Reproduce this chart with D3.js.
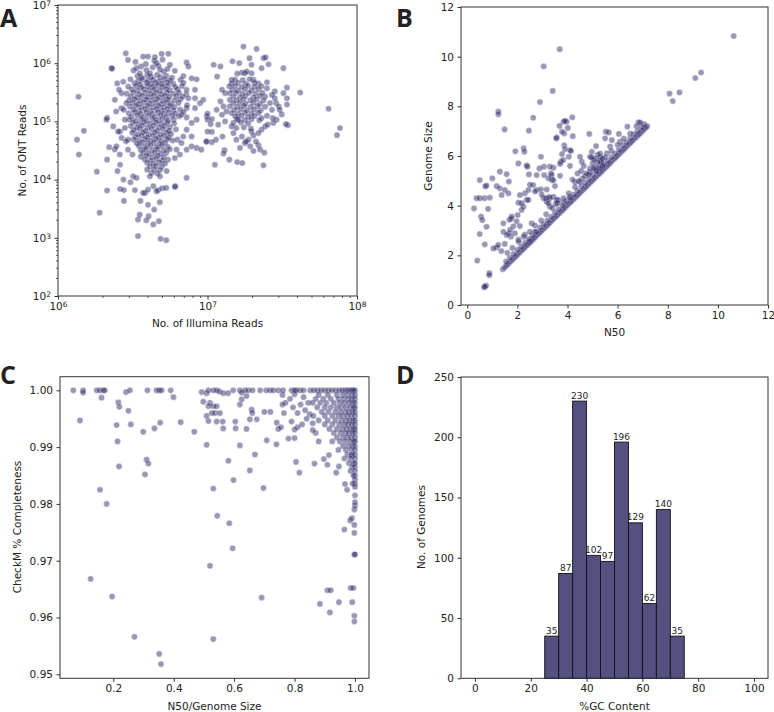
<!DOCTYPE html>
<html><head><meta charset="utf-8">
<script src="https://cdn.jsdelivr.net/npm/d3@7"></script>
<style>
body{margin:0;background:#fff}
svg text{font-family:"DejaVu Sans",sans-serif;fill:#222}
</style></head>
<body><svg id="c" width="774" height="712"></svg>
<script>
// ---------- Panel A: [Illumina reads, ONT reads] ----------
const illuminaOntReads = [
[3.4e6,6.0e5],[3.62e6,5.7e5],[3.95e6,6.2e5],[4.2e6,5.8e5],[4.6e6,6.3e5],[4.85e6,5.75e5],[5.3e6,6.05e5],[5.8e6,5.65e5],
[3.05e6,5.3e5],[3.45e6,4.95e5],[3.66e6,5.35e5],[4.0e6,5.0e5],[4.33e6,5.25e5],[4.72e6,4.9e5],[5.14e6,5.3e5],[5.62e6,5.05e5],[6.6e6,5.2e5],
[3.25e6,4.55e5],[3.55e6,4.35e5],[3.9e6,4.65e5],[4.18e6,4.4e5],[4.48e6,4.6e5],[4.98e6,4.45e5],[5.4e6,4.7e5],[5.9e6,4.4e5],[6.9e6,4.6e5],
[2.95e6,3.95e5],[3.33e6,4.1e5],[3.6e6,3.85e5],[3.97e6,4.05e5],[4.3e6,3.9e5],[4.66e6,4.15e5],[5.0e6,3.95e5],[5.42e6,4.1e5],[6.1e6,3.9e5],[6.75e6,4.05e5],
[3.12e6,3.55e5],[3.4e6,3.4e5],[3.74e6,3.6e5],[4.06e6,3.45e5],[4.4e6,3.55e5],[4.8e6,3.4e5],[5.27e6,3.6e5],[5.6e6,3.45e5],[6.3e6,3.55e5],
[2.88e6,3.0e5],[3.2e6,3.15e5],[3.5e6,2.95e5],[3.83e6,3.1e5],[4.18e6,2.98e5],[4.55e6,3.12e5],[4.95e6,2.95e5],[5.38e6,3.1e5],[5.9e6,3.0e5],[6.45e6,3.12e5],[7.2e6,2.95e5],
[3.07e6,2.7e5],[3.36e6,2.6e5],[3.65e6,2.76e5],[3.98e6,2.62e5],[4.35e6,2.74e5],[4.75e6,2.6e5],[5.17e6,2.76e5],[5.55e6,2.62e5],[6.2e6,2.72e5],
[2.98e6,2.3e5],[3.25e6,2.42e5],[3.55e6,2.28e5],[3.88e6,2.4e5],[4.22e6,2.32e5],[4.6e6,2.42e5],[5.04e6,2.28e5],[5.42e6,2.4e5],[6.02e6,2.3e5],[6.6e6,2.4e5],
[3.15e6,2.1e5],[3.44e6,2.0e5],[3.76e6,2.12e5],[4.1e6,2.02e5],[4.47e6,2.12e5],[4.88e6,2.0e5],[5.3e6,2.1e5],[5.7e6,2.02e5],[6.4e6,2.08e5],
[3.03e6,1.8e5],[3.33e6,1.86e5],[3.62e6,1.76e5],[3.97e6,1.85e5],[4.33e6,1.77e5],[4.7e6,1.85e5],[5.12e6,1.76e5],[5.6e6,1.84e5],[6.0e6,1.78e5],
[3.2e6,1.6e5],[3.5e6,1.53e5],[3.83e6,1.63e5],[4.17e6,1.54e5],[4.56e6,1.62e5],[4.96e6,1.55e5],[5.4e6,1.63e5],[5.9e6,1.55e5],[6.55e6,1.6e5],
[2.98e6,1.38e5],[3.27e6,1.44e5],[3.58e6,1.35e5],[3.9e6,1.43e5],[4.28e6,1.35e5],[4.67e6,1.43e5],[5.12e6,1.36e5],[5.5e6,1.42e5],[6.1e6,1.36e5],
[3.1e6,1.2e5],[3.4e6,1.27e5],[3.73e6,1.18e5],[4.05e6,1.26e5],[4.44e6,1.19e5],[4.85e6,1.27e5],[5.3e6,1.19e5],[5.8e6,1.26e5],[6.45e6,1.22e5],
[3.0e6,1.08e5],[3.3e6,1.03e5],[3.6e6,1.1e5],[3.93e6,1.03e5],[4.3e6,1.1e5],[4.67e6,1.04e5],[5.0e6,1.1e5],[5.45e6,1.03e5],[5.95e6,1.08e5],
[3.18e6,9.6e4],[3.47e6,9.1e4],[3.77e6,9.7e4],[4.13e6,9.1e4],[4.52e6,9.6e4],[4.92e6,9.1e4],[5.38e6,9.6e4],[5.98e6,9.2e4],
[3.06e6,8.3e4],[3.36e6,7.9e4],[3.66e6,8.5e4],[3.98e6,7.9e4],[4.35e6,8.5e4],[4.74e6,7.9e4],[5.16e6,8.4e4],[5.6e6,8.0e4],
[3.22e6,7.1e4],[3.53e6,7.5e4],[3.85e6,6.9e4],[4.22e6,7.4e4],[4.6e6,6.9e4],[5.03e6,7.4e4],[5.52e6,6.9e4],[6.15e6,7.3e4],
[3.14e6,6.4e4],[3.43e6,6.0e4],[3.73e6,6.5e4],[4.05e6,6.0e4],[4.44e6,6.5e4],[4.86e6,6.0e4],[5.33e6,6.5e4],[5.7e6,6.1e4],
[3.32e6,5.4e4],[3.62e6,5.7e4],[3.96e6,5.3e4],[4.32e6,5.7e4],[4.7e6,5.3e4],[5.11e6,5.7e4],[5.5e6,5.3e4],
[3.2e6,4.9e4],[3.5e6,4.65e4],[3.82e6,5.0e4],[4.17e6,4.65e4],[4.52e6,5.0e4],[4.93e6,4.65e4],[5.38e6,4.95e4],[5.85e6,4.7e4],
[3.36e6,4.2e4],[3.66e6,4.35e4],[3.98e6,4.15e4],[4.38e6,4.35e4],[4.78e6,4.15e4],[5.2e6,4.3e4],
[3.48e6,3.8e4],[3.8e6,3.6e4],[4.16e6,3.85e4],[4.54e6,3.62e4],[4.95e6,3.82e4],[5.42e6,3.65e4],
[3.58e6,3.22e4],[3.9e6,3.35e4],[4.25e6,3.18e4],[4.65e6,3.33e4],[5.1e6,3.18e4],[5.6e6,3.32e4],
[3.72e6,2.9e4],[4.05e6,2.78e4],[4.44e6,2.92e4],[4.86e6,2.78e4],[5.3e6,2.9e4],
[3.58e6,2.48e4],[3.92e6,2.58e4],[4.28e6,2.43e4],[4.66e6,2.57e4],[5.1e6,2.44e4],
[3.8e6,2.22e4],[4.16e6,2.13e4],[4.55e6,2.27e4],[4.98e6,2.14e4],[5.45e6,2.2e4],
[3.95e6,1.95e4],[4.35e6,1.88e4],[4.76e6,1.98e4],[5.2e6,1.89e4],
[4.12e6,1.69e4],[4.52e6,1.72e4],[4.95e6,1.66e4],
[3.95e6,1.48e4],[4.39e6,1.5e4],[4.81e6,1.46e4],
[4.23e6,1.3e4],[4.61e6,1.28e4],
[3.2e6,7.5e5],[3.6e6,8.8e5],[4.3e6,8.5e5],[4.7e6,9.0e5],[5.1e6,7.2e5],[5.4e6,8.0e5],[3.9e6,7.6e5],[4.4e6,1.1e6],[3.3e6,1.05e6],[5.0e6,1.15e6],
[2.84e6,1.48e6],[2.94e6,1.14e6],[3.71e6,1.3e6],[4.0e6,1.3e6],[4.45e6,1.27e6],[4.93e6,1.45e6],[5.47e6,1.45e6],
[2.28e6,8.2e5],[3.87e6,9.7e5],[4.56e6,1.0e6],[5.61e6,9.4e5],[6.05e6,7.4e5],[7.25e6,1.03e6],[7.45e6,8.8e5],
[3.35e6,8.2e5],[3.53e6,6.7e5],[4.12e6,6.7e5],[4.81e6,7.7e5],[2.49e6,4.5e5],[2.66e6,3.06e5],
[6.89e6,6.0e5],[7.83e6,5.5e5],[8.46e6,5.3e5],[8.25e6,3.5e5],[7.25e6,3.5e5],[7.45e6,2.5e5],[8.25e6,2.5e5],[9.38e6,2.35e5],[8.91e6,2.06e5],[9.9e6,1.22e5],
[1.37e6,2.65e5],[1.34e6,4.85e4],[1.49e6,6.9e4],[1.38e6,2.7e4],[1.82e6,1.37e4],[1.9e6,2.7e3],[2.13e6,6.5e3],[2.13e6,2.2e4],[2.2e6,3.6e4],[2.13e6,1.15e5],
[2.3e6,8.1e5],[2.45e6,1.48e5],[2.4e6,3.3e4],[2.5e6,1.4e4],[2.6e6,1.8e4],[2.6e6,6.9e3],[2.76e6,6.6e3],[2.76e6,4.3e3],[2.74e6,1.0e4],[2.6e6,6.7e4],
[3.05e6,9.0e3],[3.27e6,6.6e3],[3.35e6,1.07e4],[3.43e6,1.07e3],[3.43e6,2.06e3],[3.52e6,2.5e3],[3.56e6,4.3e3],[3.9e6,2.0e3],[4.04e6,2.35e3],[4.34e6,1.7e3],
[4.4e6,3.06e3],[4.73e6,1.93e3],[4.8e6,4.1e3],[4.0e6,3.7e3],[4.86e6,960],[5.3e6,910],[3.83e6,5.9e3],[4.34e6,7.7e3],[4.68e6,6.6e3],[4.98e6,7.1e3],
[5.3e6,7.2e3],[6.1e6,7.7e3],[7.25e6,1.07e4],[2.11e6,1.07e5],[2.66e6,1.69e5],[2.87e6,2.06e5],[2.8e6,1.07e5],[2.52e6,6.7e4],[2.8e6,7.7e4],[2.66e6,5.2e4],
[2.94e6,4.85e4],[2.46e6,3.73e4],[2.59e6,2.7e4],[3.15e6,2.7e4],[2.94e6,3.27e4],
[6.05e6,2.35e4],[6.54e6,2.7e4],[7.25e6,3.27e4],[7.83e6,3.73e4],[8.46e6,3.5e4],[9.1e6,3.27e4],[9.9e6,4.5e4],[7.83e6,5.5e4],[7.25e6,7.2e4],[7.83e6,9.4e4],
[8.46e6,1.07e5],[6.7e6,1.3e5],[7.25e6,1.69e5],[5.33e6,1.4e4],[4.81e6,1.14e4],[4.12e6,1.14e4],[3.18e6,1.14e4],[3.71e6,5.9e3],[4.0e6,6.7e3],[4.56e6,6.3e3],
[6.05e6,7.5e3],[6.82e6,2.68e5],[7.3e6,1.9e5],[8.25e6,1.69e5],[6.9e6,1.45e5],[7.25e6,1.17e5],[6.89e6,5.5e4],[6.3e6,4.85e4],[6.7e6,4.25e4],[6.21e6,3.27e4],
[2.4e6,2.35e5],[2.56e6,3.5e5],[2.73e6,4.8e5],[2.76e6,1.58e5],[2.34e6,8.2e4],[2.85e6,4.55e4],
[1.74e7,1.93e6],[2.13e7,1.76e6],[1.47e7,1.08e6],[1.63e7,1.0e6],[1.91e7,1.22e6],[1.97e7,9.4e5],[2.37e7,1.22e6],[2.45e7,1.26e6],[2.3e7,8.2e5],[2.56e7,9.6e5],
[3.22e7,8.2e5],[1.1e7,9.4e5],[1.22e7,8.8e5],[1.16e7,5.9e5],[1.45e7,5.2e5],[1.7e7,6.9e5],[1.78e7,6.7e5],[1.97e7,6.7e5],[2.03e7,5.2e5],[2.19e7,4.5e5],
[1.25e7,3.5e5],[1.31e7,3.06e5],[2.5e7,3.7e5],[2.82e7,3.27e5],[3.22e7,3.06e5],[3.4e7,3.8e5],[3.4e7,2.5e5],[4.17e7,3.14e5],[6.45e7,1.65e5],[7.7e7,7.7e4],
[7.35e7,5.8e4],[2.88e7,2.06e5],[3.0e7,1.8e5],[3.45e7,8.6e4],[2.9e7,1.07e5],[2.76e7,9.4e4],[1.0e7,1.36e5],[1.0e7,1.07e5],[1.07e7,1.1e5],[1.15e7,1.58e5],
[1.22e7,2.2e5],[1.28e7,1.81e5],[1.34e7,1.48e5],[1.25e7,1.3e5],[1.31e7,1.0e5],[1.18e7,8.8e4],[1.07e7,6.6e4],[1.14e7,4.85e4],[1.3e7,3.2e4],[1.28e7,2.8e4],
[1.4e7,2.2e4],[1.12e7,1.8e4],[1.58e7,2.0e4],[1.71e7,1.93e4],[2.37e7,1.76e4],[1.93e7,3.73e4],[2.19e7,3.9e4],[2.25e7,3.27e4],[2.4e7,2.9e4],[2.03e7,3.1e4],
[1.65e7,3.5e4],[1.78e7,4.25e4],[1.88e7,4.85e4],[1.56e7,4.85e4],[1.7e7,5.5e4],[1.49e7,6.3e4],[1.97e7,6.7e4],[2.3e7,7.2e4],[2.19e7,6.3e4],[2.43e7,8.2e4],
[2.53e7,8.8e4],[2.3e7,1.14e5],[2.5e7,1.25e5],[2.7e7,1.58e5],[2.62e7,2.06e5],[2.82e7,2.5e5],[2.43e7,2.68e5],[2.7e7,2.85e5],[3.4e7,1.95e5],[3.04e7,1.58e5],
[1.05e7,9.0e4],[1.58e7,6.6e5],[1.83e7,7.2e5],[2.5e7,4.7e5],[2.73e7,1.14e5],[3.14e7,1.32e5],[3.34e7,9.0e4],[2.11e7,4.5e4],[1.81e7,4.5e4],[1.07e7,4.4e4],
[1.26e7,5.5e4],[1.45e7,8.2e4],[9.8e6,4.5e4],[1.0e7,6.7e4],[1.58e7,1.1e5],[2.03e7,5.7e4],
[1.53e7,5.2e5],[1.72e7,5.1e5],[1.91e7,5.3e5],
[1.45e7,4.5e5],[1.6e7,4.6e5],[1.8e7,4.4e5],[2.06e7,4.6e5],
[1.4e7,4.0e5],[1.53e7,4.1e5],[1.69e7,3.9e5],[1.87e7,4.1e5],[2.06e7,3.9e5],[2.3e7,4.0e5],
[1.47e7,3.5e5],[1.6e7,3.4e5],[1.78e7,3.6e5],[1.97e7,3.4e5],[2.19e7,3.6e5],
[1.41e7,3.06e5],[1.55e7,3.1e5],[1.71e7,3.0e5],[1.89e7,3.1e5],[2.1e7,3.0e5],[2.33e7,3.1e5],
[1.49e7,2.68e5],[1.65e7,2.6e5],[1.8e7,2.75e5],[2.03e7,2.6e5],[2.25e7,2.75e5],
[1.41e7,2.35e5],[1.56e7,2.3e5],[1.74e7,2.4e5],[1.93e7,2.3e5],[2.13e7,2.4e5],[2.37e7,2.3e5],
[1.49e7,2.06e5],[1.65e7,2.1e5],[1.8e7,2.0e5],[2.03e7,2.1e5],[2.25e7,2.0e5],
[1.41e7,1.81e5],[1.58e7,1.78e5],[1.75e7,1.85e5],[1.95e7,1.78e5],[2.16e7,1.84e5],[2.43e7,1.78e5],
[1.51e7,1.58e5],[1.67e7,1.62e5],[1.84e7,1.55e5],[2.05e7,1.6e5],[2.27e7,1.55e5],
[1.45e7,1.39e5],[1.6e7,1.36e5],[1.78e7,1.42e5],[1.97e7,1.36e5],[2.19e7,1.4e5],
[1.53e7,1.22e5],[1.69e7,1.25e5],[1.87e7,1.2e5],[2.06e7,1.24e5],
[1.6e7,1.07e5],[1.78e7,1.05e5],[1.97e7,1.09e5],[2.22e7,1.05e5],
[1.49e7,9.4e4],[1.67e7,9.6e4],[1.87e7,9.2e4],
[1.56e7,7.7e4],[1.75e7,7.9e4],[1.95e7,7.5e4]
];

// ---------- Panel B: [N50 (Mb), Genome size (Mb)] ----------
const n50GenomeSize = [
[10.63,10.83],[9.33,9.36],[9.1,9.14],[8.07,8.51],[8.2,8.21],[8.47,8.56],[3.05,9.61],[3.69,10.3],[3.41,8.62],[2.9,8.17],
[1.24,7.79],[1.24,7.68],[1.49,7.07],[2.46,7.02],[2.63,7.54],[4.19,7.56],[3.97,7.38],[3.84,7.38],[4.01,7.13],[3.68,7.21],
[3.57,6.75],[4.21,6.8],[3.87,6.91],[3.87,6.43],[3.78,6.08],[3.74,5.77],[4.87,6.89],[4.1,6.24],[1.92,6.19],[2.04,5.7],
[2.37,5.62],[2.25,6.31],[2.94,5.97],[3.06,5.57],[3.44,5.53],[2.46,5.26],[2.77,5.23],[3.07,5.23],[1.3,5.37],[1.57,5.27],
[1.66,4.97],[1.0,5.1],[0.5,5.03],[0.77,4.81],[0.72,4.78],[1.17,4.79],[1.3,4.7],[1.5,4.63],[1.37,4.43],[0.37,4.3],
[0.5,4.3],[0.69,4.3],[0.9,4.32],[0.27,3.89],[0.83,3.87],[0.55,3.56],[0.6,3.42],[0.5,2.86],[0.77,3.15],[0.7,2.44],
[0.4,1.79],[0.88,1.28],[0.88,1.2],[0.67,0.71],[0.75,0.78],[0.7,0.74],[1.17,2.32],[1.36,2.17],[1.5,2.46],[1.74,2.75],
[1.66,2.89],[1.84,3.17],[1.76,3.48],[1.97,3.37],[2.01,3.62],[2.17,3.83],[2.04,4.12],[2.24,3.96],[2.37,4.23],[2.3,4.5],
[2.44,4.63],[2.63,4.83],[2.77,4.63],[2.94,4.66],[3.04,4.3],[3.17,4.16],[3.27,4.36],[3.44,4.36],[3.3,3.96],[3.53,4.07],
[3.64,4.23],[3.84,4.13],[4.1,4.35],[2.28,6.17],[3.34,5.3],[3.38,5.03],[3.7,5.2],[4.5,5.97],[4.57,5.77],[4.9,5.97],
[4.97,6.17],[5.14,6.4],[5.53,6.98],[5.65,6.95],[5.5,6.71],[5.77,6.64],[6.05,6.89],[6.1,6.58],[6.39,7.18],[6.83,7.36],
[5.57,6.11],[5.7,6.38],[3.55,6.71],[3.78,6.98],[3.9,7.42],[3.7,5.68],[3.9,6.27],[4.14,6.2],[3.83,5.84],[4.1,5.6],
[4.05,5.97],[2.4,5.57],[2.88,5.5],[3.3,5.57],[3.37,5.23],[3.44,5.03],[3.24,5.1],[3.5,4.79],[3.17,4.65],[2.97,4.45],
[3.3,4.3],[3.24,4.1],[3.57,4.23],[3.14,4.3],[2.7,4.57],[2.5,4.84],[2.44,4.23],[2.17,4.1],[2.1,4.43],[1.64,4.5],
[1.68,3.43],[1.77,3.56],[1.44,3.29],[1.71,3.03],[1.9,2.89],[2.1,3.18],[2.04,2.63],[2.3,2.83],[2.57,3.29],[2.7,2.95],
[2.5,2.56],[1.24,2.42],[1.04,2.28],[1.44,2.95],[1.57,2.82],
[1.42,1.44],[1.5,1.52],[1.57,1.59],[1.64,1.66],[1.72,1.74],[1.8,1.82],[1.87,1.89],[1.95,1.97],[2.02,2.04],[2.1,2.12],
[2.18,2.2],[2.25,2.27],[2.33,2.35],[2.4,2.42],[2.48,2.5],[2.56,2.58],[2.63,2.65],[2.7,2.72],[2.78,2.8],[2.86,2.88],
[2.93,2.95],[3.0,3.02],[3.08,3.1],[3.16,3.18],[3.23,3.25],[3.3,3.32],[3.38,3.4],[3.46,3.48],[3.53,3.55],[3.6,3.62],
[3.68,3.7],[3.76,3.78],[3.83,3.85],[3.9,3.92],[3.98,4.0],[4.06,4.08],[4.13,4.15],[4.2,4.22],[4.28,4.3],[4.36,4.38],
[4.43,4.45],[4.5,4.52],[4.58,4.6],[4.66,4.68],[4.73,4.75],[4.8,4.82],[4.88,4.9],[4.96,4.98],[5.03,5.05],[5.1,5.12],
[5.18,5.2],[5.26,5.28],[5.33,5.35],[5.4,5.42],[5.48,5.5],[5.56,5.58],[5.63,5.65],[5.7,5.72],[5.78,5.8],[5.86,5.88],
[5.93,5.95],[6.0,6.02],[6.08,6.1],[6.16,6.18],[6.23,6.25],[6.3,6.32],[6.38,6.4],[6.46,6.48],[6.53,6.55],[6.6,6.62],
[6.68,6.7],[6.76,6.78],[6.83,6.85],[6.9,6.92],[6.98,7.0],[7.05,7.07],[7.12,7.14],[7.18,7.2],
[1.55,1.75],[1.7,1.9],[1.85,2.05],[2.0,2.22],[2.15,2.35],[2.3,2.5],[2.45,2.65],[2.6,2.8],[2.75,2.95],[2.9,3.12],
[3.05,3.25],[3.2,3.4],[3.35,3.55],[3.5,3.72],[3.65,3.85],[3.8,4.0],[3.95,4.18],[4.1,4.32],[4.25,4.45],[4.4,4.6],
[4.55,4.78],[4.7,4.92],[4.85,5.05],[5.0,5.22],[5.15,5.38],[5.3,5.5],[5.45,5.68],[5.6,5.8],[5.75,5.95],[5.9,6.1],
[6.05,6.25],[6.2,6.42],[6.35,6.55],[6.5,6.7],[6.65,6.88],[6.8,7.0],[6.95,7.15],[7.05,7.28],
[1.6,2.1],[1.8,2.3],[2.05,2.55],[2.25,2.75],[2.5,2.95],[2.7,3.2],[2.95,3.4],[3.15,3.65],[3.4,3.9],[3.6,4.1],
[3.85,4.3],[4.05,4.5],[4.3,4.75],[4.5,4.95],[4.7,5.2],[4.9,5.35],[5.1,5.55],[5.3,5.8],[5.5,5.95],[5.75,6.2],
[6.0,6.45],[6.25,6.7],[6.5,6.9],[6.75,7.2],[6.9,7.35],
[4.75,5.3],[4.9,5.5],[5.0,5.7],[5.1,5.9],[5.2,6.05],[5.3,5.95],[5.35,5.75],[5.25,5.55],[5.15,5.4],[5.05,5.85],
[4.95,5.95],[5.3,6.1],[5.4,5.9],[5.4,5.6],[4.85,5.25],[5.2,5.75],[5.05,5.5],[4.6,5.1],[4.45,5.0],[4.3,4.95],
[4.2,5.05],[4.4,5.3],[4.55,5.4],[4.65,5.6]
];

// ---------- Panel C: [N50/Genome size, CheckM completeness] ----------
const ratioCompleteness = [
[0.0675,1.0],[0.1,1.0],[0.1,0.9996],[0.145,1.0],[0.156,1.0],[0.167,1.0],[0.172,1.0],[0.161,0.9987],[0.0896,0.9947],[0.2166,0.9979],
[0.22,0.9971],[0.25,0.9964],[0.242,0.9997],[0.255,1.0],[0.211,0.9939],[0.258,0.994],[0.214,0.991],[0.219,0.9866],[0.299,0.9927],[0.31,0.9878],
[0.316,0.9871],[0.305,0.9852],[0.313,1.0],[0.343,1.0],[0.352,1.0],[0.36,1.0],[0.336,0.9933],[0.355,0.9943],[0.39,1.0],[0.399,0.9988],
[0.423,0.9944],[0.468,0.9927],[0.4925,0.9997],[0.509,0.9995],[0.515,1.0],[0.531,1.0],[0.542,1.0],[0.551,0.9998],[0.564,0.9995],[0.58,0.9995],
[0.597,1.0],[0.619,1.0],[0.625,0.9996],[0.636,1.0],[0.647,1.0],[0.661,1.0],[0.686,1.0],[0.706,1.0],[0.719,1.0],[0.73,1.0],
[0.746,1.0],[0.498,0.998],[0.52,0.9978],[0.515,0.9972],[0.531,0.9972],[0.542,0.9972],[0.526,0.996],[0.537,0.996],[0.553,0.996],[0.509,0.9955],
[0.515,0.9946],[0.542,0.9945],[0.562,0.9945],[0.564,0.9933],[0.604,0.9945],[0.605,0.9933],[0.619,0.9975],[0.625,0.9984],[0.641,0.999],[0.641,0.9932],
[0.658,0.9966],[0.66,0.996],[0.675,0.9949],[0.652,0.9949],[0.619,0.9903],[0.581,0.9876],[0.598,0.9842],[0.669,0.9887],[0.708,0.9912],[0.509,0.9904],
[0.531,0.9827],[0.652,0.9859],[0.70,0.9962],[0.72,0.9962],[0.741,0.9943],[0.746,0.9932],
[0.156,0.9825],[0.178,0.98],[0.125,0.9668],[0.196,0.9637],[0.27,0.9566],[0.352,0.9536],[0.358,0.9518],[0.52,0.9691],[0.531,0.9562],[0.544,0.9779],
[0.584,0.9766],[0.595,0.9722],[0.697,0.9828],[0.691,0.9635],[0.805,0.9874],[0.816,0.9855],[0.866,0.9871],[0.897,0.9879],[0.909,0.9869],[0.914,0.9886],
[0.938,0.9855],[0.947,0.9866],[0.967,0.9835],[0.965,0.9755],[0.974,0.9825],[0.984,0.9771],[0.99,0.9885],[0.884,0.9624],[0.909,0.9648],[0.92,0.9648],
[0.917,0.9609],[0.947,0.9627],[0.986,0.9652],[0.995,0.9652],[0.991,0.9627],[0.998,0.9603],[0.998,0.9593],[0.998,0.9711],[1.0,0.9711],[0.998,0.9749],
[0.998,0.9763],[0.99,0.9775],[0.998,0.979],[1.0,0.9797],[1.0,0.9803],[1.0,0.9815],
[0.76,0.9992],[0.77,0.9978],[0.785,0.9985],[0.8,0.9993],[0.795,0.997],[0.81,0.996],[0.82,0.9975],[0.83,0.9988],[0.835,0.9965],[0.84,0.995],
[0.79,0.9945],[0.81,0.9935],[0.825,0.994],[0.845,0.9978],[0.85,0.9958],[0.86,0.9942],[0.87,0.9925],[0.88,0.991],[0.86,0.993],[0.8,0.9931],
[0.8,0.9916],[0.78,0.9915],[0.755,0.9935],[0.74,0.9905],[0.765,0.996],[0.76,0.9975],
[0.762,1.0],[0.79,1.0],[0.8,1.0],[0.805,1.0],[0.818,1.0],[0.83,1.0],[0.852,1.0],[0.864,1.0],[0.876,1.0],[0.888,1.0],
[0.9,1.0],[0.912,1.0],[0.924,1.0],[0.936,1.0],[0.948,1.0],[0.958,1.0],[0.968,1.0],[0.976,1.0],[0.984,1.0],[0.99,1.0],[0.995,1.0],[1.0,1.0],
[0.88,0.9992],[0.91,0.9992],[0.94,0.9992],[0.96,0.9992],[0.975,0.9992],[0.99,0.9992],[1.0,0.9992],
[0.87,0.9985],[0.895,0.9985],[0.92,0.9985],[0.945,0.9985],[0.962,0.9985],[0.978,0.9985],[0.99,0.9985],[1.0,0.9985],
[0.86,0.9978],[0.885,0.9978],[0.905,0.9978],[0.93,0.9978],[0.95,0.9978],[0.965,0.9978],[0.98,0.9978],[0.992,0.9978],[1.0,0.9978],
[0.875,0.997],[0.9,0.997],[0.92,0.997],[0.94,0.997],[0.955,0.997],[0.97,0.997],[0.985,0.997],[0.995,0.997],[1.0,0.997],
[0.89,0.9962],[0.912,0.9962],[0.935,0.9962],[0.952,0.9962],[0.968,0.9962],[0.98,0.9962],[0.992,0.9962],[1.0,0.9962],
[0.862,0.9955],[0.9,0.9955],[0.925,0.9955],[0.945,0.9955],[0.96,0.9955],[0.975,0.9955],[0.988,0.9955],[1.0,0.9955],
[0.88,0.9947],[0.91,0.9947],[0.935,0.9947],[0.955,0.9947],[0.97,0.9947],[0.982,0.9947],[0.993,0.9947],[1.0,0.9947],
[0.9,0.994],[0.925,0.994],[0.948,0.994],[0.965,0.994],[0.978,0.994],[0.99,0.994],[1.0,0.994],
[0.915,0.9932],[0.94,0.9932],[0.958,0.9932],[0.972,0.9932],[0.985,0.9932],[0.995,0.9932],[1.0,0.9932],
[0.93,0.9925],[0.952,0.9925],[0.968,0.9925],[0.98,0.9925],[0.992,0.9925],[1.0,0.9925],
[0.94,0.9917],[0.96,0.9917],[0.975,0.9917],[0.988,0.9917],[1.0,0.9917],
[0.925,0.991],[0.95,0.991],[0.968,0.991],[0.985,0.991],[0.996,0.991],[1.0,0.991],
[0.96,0.9902],[0.978,0.9902],[0.992,0.9902],[1.0,0.9902],
[0.945,0.9895],[0.97,0.9895],[0.988,0.9895],[1.0,0.9895],
[0.975,0.9887],[0.99,0.9887],[1.0,0.9887],
[0.965,0.988],[0.985,0.988],[1.0,0.988],
[0.98,0.9872],[0.995,0.9872],[1.0,0.9872],
[0.99,0.9865],[1.0,0.9865],[0.985,0.9858],[1.0,0.9858],[1.0,0.985],[0.995,0.985],[1.0,0.9843],[1.0,0.9836],[0.992,0.9836],[1.0,0.983]
];

// ---------- Panel D: %GC histogram ----------
const gcBinStart = [25,30,35,40,45,50,55,60,65,70];
const gcBinWidth = 5;
const gcCounts   = [35,87,230,102,97,196,129,62,140,35];

// ---------- tick labels ----------
const ticksA_x = [1e6,1e7,1e8];
const ticksA_y = [1e2,1e3,1e4,1e5,1e6,1e7];
const ticksB = [0,2,4,6,8,10,12];
const ticksC_x = [0.2,0.4,0.6,0.8,1.0];
const ticksC_y = [0.95,0.96,0.97,0.98,0.99,1.00];
const ticksD_x = [0,20,40,60,80,100];
const ticksD_y = [0,50,100,150,200,250];

// ---------- drawing ----------
const svg = d3.select("#c");
const DOT = "#1d1a5e", BAR = "#54507f";

function styleAxis(g){
  g.attr("font-family",null).attr("font-size",null);
  g.selectAll(".domain").remove();
  g.selectAll(".tick line").attr("stroke","#333");
  g.selectAll(".tick text").attr("font-size","10.5px").attr("fill","#222");
}
function frame(x,y){
  const [x0,x1]=x.range(), [y1,y0]=y.range();
  svg.append("rect").attr("x",x0).attr("y",y0).attr("width",x1-x0).attr("height",y1-y0)
     .attr("fill","none").attr("stroke","#333").attr("stroke-width",1);
}
function axes(x,y,xt,yt,xf,yf,sup){
  const gx = svg.append("g").attr("transform",`translate(0,${y.range()[0]})`)
    .call(d3.axisBottom(x).tickValues(xt).tickFormat(xf).tickSize(3.5).tickPadding(3));
  const gy = svg.append("g").attr("transform",`translate(${x.range()[0]},0)`)
    .call(d3.axisLeft(y).tickValues(yt).tickFormat(yf).tickSize(3.5).tickPadding(3.5));
  styleAxis(gx); styleAxis(gy);
  if(sup){
    [gx,gy].forEach(g=>g.selectAll(".tick text").each(function(d){
      const t=d3.select(this); t.text(null);
      t.append("tspan").text("10");
      t.append("tspan").attr("dy","-0.4em").attr("font-size","7.5px").text(Math.round(Math.log10(d)));
    }));
  }
  return [gx,gy];
}
function minorLog(x,y){
  const mx=[],my=[];
  for(let e=6;e<8;e++) for(let m=2;m<10;m++) mx.push(m*Math.pow(10,e));
  for(let e=2;e<7;e++) for(let m=2;m<10;m++) my.push(m*Math.pow(10,e));
  svg.append("g").selectAll("line").data(mx).join("line")
    .attr("x1",d=>x(d)).attr("x2",d=>x(d)).attr("y1",y.range()[0]).attr("y2",y.range()[0]+2)
    .attr("stroke","#333").attr("stroke-width",0.8);
  svg.append("g").selectAll("line").data(my).join("line")
    .attr("y1",d=>y(d)).attr("y2",d=>y(d)).attr("x1",x.range()[0]).attr("x2",x.range()[0]-2)
    .attr("stroke","#333").attr("stroke-width",0.8);
}
function dots(data,x,y){
  svg.append("g").selectAll("circle").data(data).join("circle")
    .attr("cx",d=>x(d[0])).attr("cy",d=>y(d[1])).attr("r",3.1)
    .attr("fill",DOT).attr("stroke","#fff").attr("stroke-width",0.4).attr("opacity",0.45);
}
function label(txt,x,y,rot,size){
  const t=svg.append("text").text(txt).attr("font-size",(size||10.5)+"px").attr("text-anchor","middle");
  if(rot) t.attr("transform",`translate(${x},${y}) rotate(-90)`); else t.attr("x",x).attr("y",y);
  return t;
}
function letter(txt,x,y){
  svg.append("text").text(txt).attr("x",x).attr("y",y).attr("font-size","25px")
    .attr("font-weight","bold").style("font-family","'Open Sans',sans-serif").attr("fill","#000");
}

// Panel A
const xA = d3.scaleLog().domain([1e6,1e8]).range([58,357]);
const yA = d3.scaleLog().domain([1e2,1e7]).range([296,5]);
dots(illuminaOntReads,xA,yA);
frame(xA,yA); minorLog(xA,yA);
axes(xA,yA,ticksA_x,ticksA_y,d=>d,d=>d,true);
label("No. of Illumina Reads",207.5,327);
label("No. of ONT Reads",26,150.5,true);
letter("A",0,27);

// Panel B
const xB = d3.scaleLinear().domain([-0.25,12]).range([461,768]);
const yB = d3.scaleLinear().domain([0,12]).range([305,7]);
dots(n50GenomeSize,xB,yB);
frame(xB,yB);
axes(xB,yB,ticksB,ticksB,d3.format("d"),d3.format("d"));
label("N50",614.5,336);
label("Genome Size",432,156,true);
letter("B",396,27);

// Panel C
const xC = d3.scaleLinear().domain([0.0235,1.0465]).range([60,369]);
const yC = d3.scaleLinear().domain([0.9493,1.0024]).range([678.3,376.7]);
dots(ratioCompleteness,xC,yC);
frame(xC,yC);
axes(xC,yC,ticksC_x,ticksC_y,d3.format(".1f"),d3.format(".2f"));
label("N50/Genome Size",214.5,710);
label("CheckM % Completeness",21,527,true);
letter("C",0,384);

// Panel D
const xD = d3.scaleLinear().domain([-5,105]).range([461,768]);
const yD = d3.scaleLinear().domain([0,250]).range([678.3,377]);
const bars = gcBinStart.map((s,i)=>({s,c:gcCounts[i]}));
svg.append("g").selectAll("rect").data(bars).join("rect")
  .attr("x",d=>xD(d.s)).attr("width",d=>xD(d.s+gcBinWidth)-xD(d.s))
  .attr("y",d=>yD(d.c)).attr("height",d=>yD(0)-yD(d.c))
  .attr("fill",BAR).attr("stroke","#111").attr("stroke-width",0.9);
svg.append("g").selectAll("text").data(bars).join("text")
  .attr("x",d=>xD(d.s+gcBinWidth/2)).attr("y",d=>yD(d.c)-2.5)
  .attr("text-anchor","middle").attr("font-size","9px").text(d=>d.c);
frame(xD,yD);
axes(xD,yD,ticksD_x,ticksD_y,d3.format("d"),d3.format("d"));
label("%GC Content",614.5,710);
label("No. of Genomes",425,527,true);
letter("D",396,384);
</script></body></html>
